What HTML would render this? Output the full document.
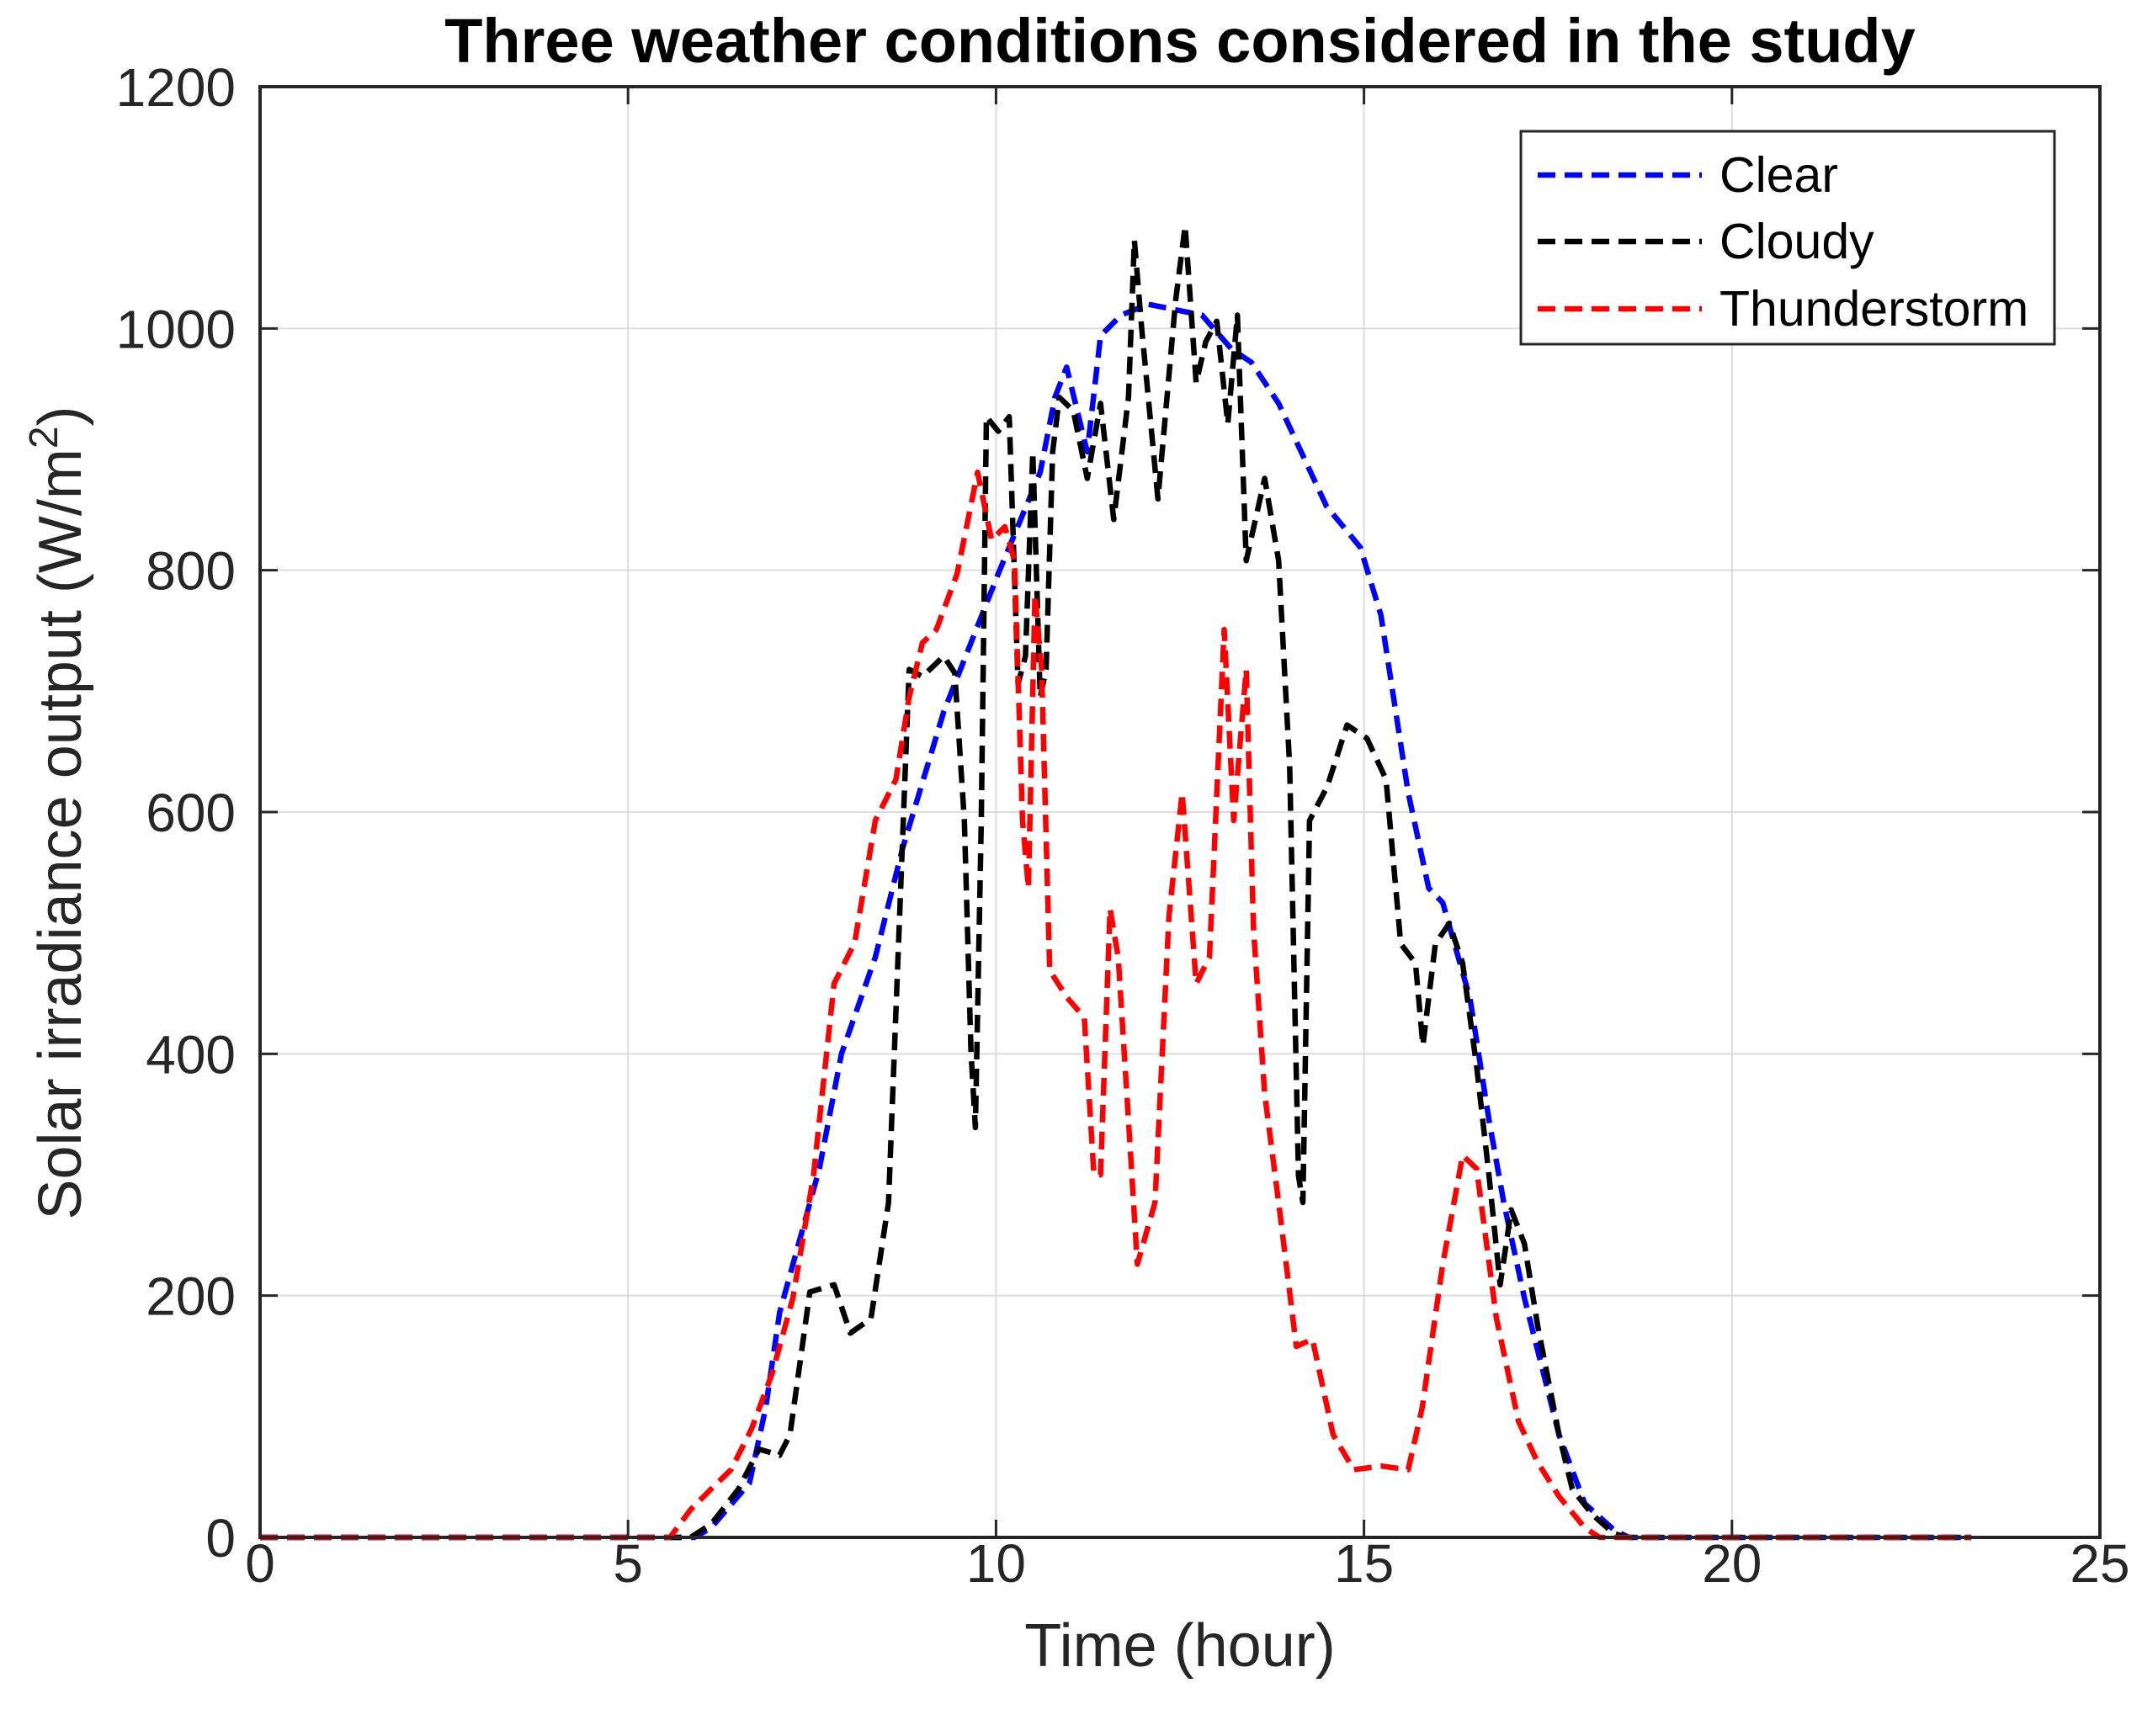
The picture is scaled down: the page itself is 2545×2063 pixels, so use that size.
<!DOCTYPE html>
<html><head><meta charset="utf-8"><style>
html,body{margin:0;padding:0;background:#fff;}
svg{display:block;font-family:"Liberation Sans",Arial,sans-serif;}
</style></head><body>
<svg id="chart" width="2545" height="2063" viewBox="0 0 2545 2063">
<rect x="0" y="0" width="2545" height="2063" fill="#fff"/>
<g id="grid"></g>
<g id="series"></g>
<g id="axes"></g>
<text x="1402" y="74" text-anchor="middle" font-size="74" font-weight="bold" fill="#000">Three weather conditions considered in the study</text>
<text x="1402" y="1980" text-anchor="middle" font-size="72" fill="#262626">Time (hour)</text>
<text transform="translate(96,966) rotate(-90)" text-anchor="middle" font-size="72" fill="#262626">Solar irradiance output (W/m<tspan dy="-28" font-size="48">2</tspan><tspan dy="28">)</tspan></text>
<g>
<rect x="1807" y="156" width="634" height="253" fill="#fff" stroke="#262626" stroke-width="3"/>
<line x1="1827" y1="208" x2="2022" y2="208" stroke="#0000ff" stroke-width="6.5" stroke-dasharray="21,11"/>
<text x="2043" y="228" font-size="59" fill="#000">Clear</text>
<line x1="1827" y1="287" x2="2022" y2="287" stroke="#000" stroke-width="6.5" stroke-dasharray="21,11"/>
<text x="2043" y="307" font-size="59" fill="#000">Cloudy</text>
<line x1="1827" y1="367" x2="2022" y2="367" stroke="#ff0000" stroke-width="6.5" stroke-dasharray="21,11"/>
<text x="2043" y="387" font-size="59" fill="#000">Thunderstorm</text>
</g>
</svg>
<script>
const xTicks = [0,5,10,15,20,25];
const yTicks = [0,200,400,600,800,1000,1200];
const clearT = [0,5.9,6.13,6.65,6.87,7.06,7.6,7.9,8.36,8.73,9.29,10.03,10.6,10.8,10.96,11.24,11.42,11.7,12.07,12.8,13.2,13.47,13.84,14.49,14.95,15.23,15.6,15.88,16.07,16.44,16.7,16.9,17.18,17.65,18.0,18.4,18.6,23.25];
const clearV = [0,0,8,45,107,186,305,400,480,570,683,797,881,943,968,898,994,1011,1020,1011,983,972,938,853,819,763,616,537,525,446,345,277,198,85,28,6,0,0];
const cloudyT = [0,5.85,6.13,6.5,6.78,7.06,7.2,7.47,7.8,8.02,8.3,8.54,8.82,9.0,9.29,9.44,9.57,9.66,9.72,9.8,9.87,10.03,10.18,10.3,10.4,10.5,10.6,10.68,10.77,10.86,11.05,11.24,11.42,11.6,11.8,11.88,11.98,12.2,12.44,12.57,12.72,12.85,13.0,13.15,13.28,13.4,13.65,13.84,13.99,14.11,14.17,14.26,14.5,14.77,15.04,15.3,15.5,15.7,15.8,15.97,16.16,16.34,16.53,16.7,16.85,17.0,17.18,17.36,17.65,17.83,18.1,18.4,18.6,23.25];
const cloudyV = [0,0,11,40,73,68,85,203,209,169,181,277,718,712,729,715,593,401,339,593,927,915,927,706,729,898,695,718,898,943,932,876,938,842,943,1073,1000,859,1023,1085,955,989,1006,921,1011,808,876,808,638,299,277,593,621,672,661,627,491,475,407,491,508,475,390,299,209,271,243,175,85,40,19,3,0,0];
const stormT = [0,5.57,5.85,6.13,6.4,6.68,6.96,7.24,7.52,7.8,8.08,8.36,8.64,8.82,9.0,9.19,9.47,9.75,9.94,10.12,10.25,10.36,10.44,10.53,10.62,10.73,10.96,11.2,11.33,11.42,11.55,11.66,11.8,11.92,12.16,12.35,12.53,12.72,12.9,13.1,13.23,13.4,13.5,13.65,13.84,14.08,14.3,14.58,14.86,15.23,15.6,15.79,16.07,16.34,16.53,16.8,17.1,17.36,17.65,18.0,18.2,23.25];
const stormV = [0,0,23,40,56,90,136,198,299,458,492,593,627,695,740,751,797,881,825,836,808,593,537,780,718,469,447,430,300,300,520,480,345,226,277,514,616,458,480,751,593,718,503,367,277,158,164,85,56,59,56,107,226,316,305,181,96,62,34,8,0,0];

const L=309,R=2495,T=103,B=1827;
const xs = t => L + (t-0)/(25-0)*(R-L);
const ys = v => B - v/1200*(B-T);
const NS='http://www.w3.org/2000/svg';
function mk(tag, attrs, parent){const e=document.createElementNS(NS,tag);for(const k in attrs)e.setAttribute(k,attrs[k]);parent.appendChild(e);return e;}
const grid=document.getElementById('grid'), axes=document.getElementById('axes'), ser=document.getElementById('series');
xTicks.forEach(t=>{
  const x=xs(t);
  if(t>0&&t<25){const g=mk('line',{x1:x,y1:T,x2:x,y2:B,stroke:'#dcdcdc','stroke-width':2},grid);
  
  }
  const a=mk('line',{x1:x,y1:B,x2:x,y2:B-21,stroke:'#262626','stroke-width':3},axes);
  
  
  const b=mk('line',{x1:x,y1:T,x2:x,y2:T+21,stroke:'#262626','stroke-width':3},axes);
  
  
  const lb=mk('text',{x:x,y:1880,'text-anchor':'middle','font-size':64,fill:'#262626'},axes);
  lb.textContent=t;
  
  
});
yTicks.forEach(v=>{
  const y=ys(v);
  if(v>0&&v<1200){const g=mk('line',{x1:L,y1:y,x2:R,y2:y,stroke:'#dcdcdc','stroke-width':2},grid);
  
  }
  const a=mk('line',{x1:L,y1:y,x2:L+21,y2:y,stroke:'#262626','stroke-width':3},axes);
  
  
  const b=mk('line',{x1:R,y1:y,x2:R-21,y2:y,stroke:'#262626','stroke-width':3},axes);
  
  
  const lb=mk('text',{x:280,y:y+23,'text-anchor':'end','font-size':64,fill:'#262626'},axes);
  lb.textContent=v;
  
  
});
const box=mk('rect',{x:L,y:T,width:R-L,height:B-T,fill:'none',stroke:'#262626','stroke-width':4},axes);


function line(T_,V_,color,name){
  const d=T_.map((t,i)=>(i?'L':'M')+xs(t).toFixed(1)+' '+ys(V_[i]).toFixed(1)).join(' ');
  const p=mk('path',{d:d,fill:'none',stroke:color,'stroke-width':6.5,'stroke-dasharray':'21,11','stroke-linejoin':'round'},ser);
  
  
}
line(clearT,clearV,'#0000ff','series-clear');
line(cloudyT,cloudyV,'#000000','series-cloudy');
line(stormT,stormV,'#ff0000','series-thunderstorm');
</script>
</body></html>
